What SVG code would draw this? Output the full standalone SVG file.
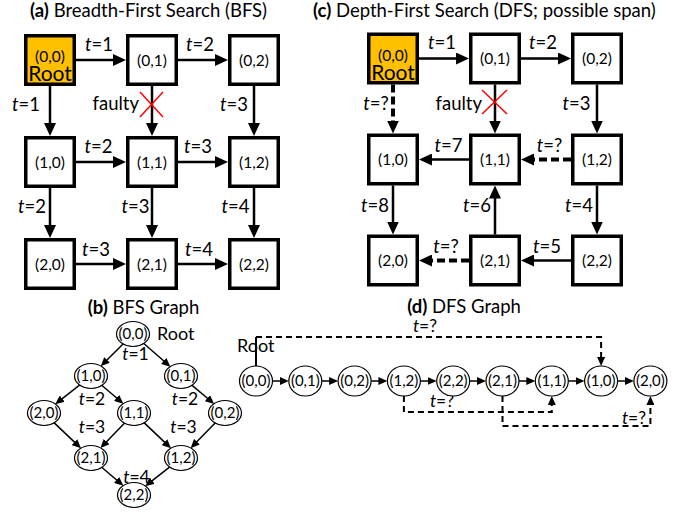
<svg xmlns="http://www.w3.org/2000/svg" width="683" height="514" viewBox="0 0 683 514">
<style>
text{font-family:Lato,"Liberation Sans",sans-serif;fill:#000}
.ttl{font-size:18.5px}
.b{font-weight:bold}
.lb{font-size:18.5px;text-anchor:middle}
.lbs{font-size:17.5px;text-anchor:middle}
.nd{font-size:15.5px;text-anchor:middle}
.gn{font-size:15px;text-anchor:middle}
.rt{font-size:21px;text-anchor:middle}
.it{font-style:italic}
.box{fill:#fff;stroke:#000;stroke-width:3.5}
.root{fill:#FFC000}
.ar{stroke:#000;stroke-width:2.5;fill:none;marker-end:url(#ah)}
.da{stroke:#000;stroke-width:4;fill:none;stroke-dasharray:8,4;marker-end:url(#ah)}
.el{fill:#fff;stroke:#000;stroke-width:1.2}
.sa{stroke:#000;stroke-width:1.5;fill:none;marker-end:url(#as)}
.sd{stroke:#000;stroke-width:2;fill:none;stroke-dasharray:6,4;marker-end:url(#as)}
.x{stroke:#FF0000;stroke-width:1.5}
</style>
<defs>
<marker id="ah" markerUnits="userSpaceOnUse" markerWidth="14" markerHeight="12" refX="5" refY="6" orient="auto"><path d="M0,0 L13,6 L0,12 z" fill="#000"/></marker>
<marker id="as" markerUnits="userSpaceOnUse" markerWidth="10" markerHeight="8" refX="4" refY="4" orient="auto"><path d="M0,0 L9,4 L0,8 z" fill="#000"/></marker>
</defs>

<!-- Titles -->
<text class="ttl" x="30" y="17"><tspan class="b">(a)</tspan> Breadth-First Search (BFS)</text>
<text class="ttl" x="313" y="17"><tspan class="b">(c)</tspan> Depth-First Search (DFS; possible span)</text>
<text class="ttl" x="143.5" y="314" text-anchor="middle"><tspan class="b">(b)</tspan> BFS Graph</text>
<text class="ttl" x="464" y="313" text-anchor="middle"><tspan class="b">(d)</tspan> DFS Graph</text>

<!-- (a) connectors -->
<g id="a-connectors">
<line class="ar" x1="76" y1="60" x2="118" y2="60"/>
<line class="ar" x1="178" y1="60" x2="220" y2="60"/>
<line class="ar" x1="76" y1="162" x2="118" y2="162"/>
<line class="ar" x1="178" y1="162" x2="220" y2="162"/>
<line class="ar" x1="76" y1="264" x2="118" y2="264"/>
<line class="ar" x1="178" y1="264" x2="220" y2="264"/>
<line class="ar" x1="50" y1="86" x2="50" y2="128"/>
<line class="ar" x1="152" y1="86" x2="152" y2="128"/>
<line class="ar" x1="254" y1="86" x2="254" y2="128"/>
<line class="ar" x1="50" y1="188" x2="50" y2="230"/>
<line class="ar" x1="152" y1="188" x2="152" y2="230"/>
<line class="ar" x1="254" y1="188" x2="254" y2="230"/>
<line class="x" x1="140" y1="92" x2="163" y2="117"/>
<line class="x" x1="163" y1="92" x2="140" y2="117"/>
<text class="lb" x="99" y="51"><tspan class="it">t</tspan>=1</text>
<text class="lb" x="200" y="51"><tspan class="it">t</tspan>=2</text>
<text class="lb" x="98.5" y="153"><tspan class="it">t</tspan>=2</text>
<text class="lb" x="198" y="153"><tspan class="it">t</tspan>=3</text>
<text class="lb" x="96" y="256"><tspan class="it">t</tspan>=3</text>
<text class="lb" x="199" y="256"><tspan class="it">t</tspan>=4</text>
<text class="lb" x="26" y="111"><tspan class="it">t</tspan>=1</text>
<text class="lb" x="234" y="111"><tspan class="it">t</tspan>=3</text>
<text class="lb" x="32" y="213"><tspan class="it">t</tspan>=2</text>
<text class="lb" x="135.5" y="213"><tspan class="it">t</tspan>=3</text>
<text class="lb" x="235.5" y="213"><tspan class="it">t</tspan>=4</text>
<text class="lb" x="139" y="110" style="text-anchor:end">faulty</text>
</g>

<!-- (a) nodes -->
<g id="a-00"><rect class="box root" x="25.75" y="35.75" width="48.5" height="48.5"/><text class="nd" x="50" y="62">(0,0)</text><text class="rt" x="50" y="81">Root</text></g>
<g id="a-01"><rect class="box" x="127.75" y="35.75" width="48.5" height="48.5"/><text class="nd" x="152" y="65.5">(0,1)</text></g>
<g id="a-02"><rect class="box" x="229.75" y="35.75" width="48.5" height="48.5"/><text class="nd" x="254" y="65.5">(0,2)</text></g>
<g id="a-10"><rect class="box" x="25.75" y="137.75" width="48.5" height="48.5"/><text class="nd" x="50" y="167.5">(1,0)</text></g>
<g id="a-11"><rect class="box" x="127.75" y="137.75" width="48.5" height="48.5"/><text class="nd" x="152" y="167.5">(1,1)</text></g>
<g id="a-12"><rect class="box" x="229.75" y="137.75" width="48.5" height="48.5"/><text class="nd" x="254" y="167.5">(1,2)</text></g>
<g id="a-20"><rect class="box" x="25.75" y="239.75" width="48.5" height="48.5"/><text class="nd" x="50" y="269.5">(2,0)</text></g>
<g id="a-21"><rect class="box" x="127.75" y="239.75" width="48.5" height="48.5"/><text class="nd" x="152" y="269.5">(2,1)</text></g>
<g id="a-22"><rect class="box" x="229.75" y="239.75" width="48.5" height="48.5"/><text class="nd" x="254" y="269.5">(2,2)</text></g>

<!-- (c) connectors -->
<g id="c-connectors">
<line class="ar" x1="419" y1="58.5" x2="461" y2="58.5"/>
<line class="ar" x1="521" y1="58.5" x2="563" y2="58.5"/>
<line class="da" x1="393" y1="84.5" x2="393" y2="125.5"/>
<line class="ar" x1="495" y1="84.5" x2="495" y2="125.5"/>
<line class="ar" x1="597" y1="84.5" x2="597" y2="125.5"/>
<line class="ar" x1="469" y1="159.5" x2="427" y2="159.5"/>
<line class="da" x1="571" y1="159.5" x2="529" y2="159.5"/>
<line class="ar" x1="393" y1="185.5" x2="393" y2="226.5"/>
<line class="ar" x1="495" y1="234.5" x2="495" y2="193.5"/>
<line class="ar" x1="597" y1="185.5" x2="597" y2="226.5"/>
<line class="ar" x1="571" y1="260.5" x2="529" y2="260.5"/>
<line class="da" x1="469" y1="260.5" x2="427" y2="260.5"/>
<line class="x" x1="482" y1="90" x2="507" y2="114"/>
<line class="x" x1="507" y1="90" x2="482" y2="114"/>
<text class="lb" x="442" y="49"><tspan class="it">t</tspan>=1</text>
<text class="lb" x="543" y="49"><tspan class="it">t</tspan>=2</text>
<text class="lb" x="376" y="110"><tspan class="it">t</tspan>=?</text>
<text class="lb" x="576.5" y="110"><tspan class="it">t</tspan>=3</text>
<text class="lb" x="482" y="110" style="text-anchor:end">faulty</text>
<text class="lb" x="448.5" y="152"><tspan class="it">t</tspan>=7</text>
<text class="lb" x="549.5" y="152"><tspan class="it">t</tspan>=?</text>
<text class="lb" x="375" y="212"><tspan class="it">t</tspan>=8</text>
<text class="lb" x="477" y="212"><tspan class="it">t</tspan>=6</text>
<text class="lb" x="579" y="212"><tspan class="it">t</tspan>=4</text>
<text class="lb" x="446" y="253"><tspan class="it">t</tspan>=?</text>
<text class="lb" x="547" y="253"><tspan class="it">t</tspan>=5</text>
</g>

<!-- (c) nodes -->
<g id="c-00"><rect class="box root" x="368.75" y="34.25" width="48.5" height="48.5"/><text class="nd" x="393" y="60.5">(0,0)</text><text class="rt" x="393" y="79.5">Root</text></g>
<g id="c-01"><rect class="box" x="470.75" y="34.25" width="48.5" height="48.5"/><text class="nd" x="495" y="64">(0,1)</text></g>
<g id="c-02"><rect class="box" x="572.75" y="34.25" width="48.5" height="48.5"/><text class="nd" x="597" y="64">(0,2)</text></g>
<g id="c-10"><rect class="box" x="368.75" y="135.25" width="48.5" height="48.5"/><text class="nd" x="393" y="165">(1,0)</text></g>
<g id="c-11"><rect class="box" x="470.75" y="135.25" width="48.5" height="48.5"/><text class="nd" x="495" y="165">(1,1)</text></g>
<g id="c-12"><rect class="box" x="572.75" y="135.25" width="48.5" height="48.5"/><text class="nd" x="597" y="165">(1,2)</text></g>
<g id="c-20"><rect class="box" x="368.75" y="236.25" width="48.5" height="48.5"/><text class="nd" x="393" y="266">(2,0)</text></g>
<g id="c-21"><rect class="box" x="470.75" y="236.25" width="48.5" height="48.5"/><text class="nd" x="495" y="266">(2,1)</text></g>
<g id="c-22"><rect class="box" x="572.75" y="236.25" width="48.5" height="48.5"/><text class="nd" x="597" y="266">(2,2)</text></g>

<!-- (b) connectors -->
<g id="b-connectors">
<line class="sa" x1="123.3" y1="343.7" x2="104.2" y2="362.8"/>
<line class="sa" x1="143.5" y1="343.2" x2="166.7" y2="363.5"/>
<line class="sa" x1="79.8" y1="384.8" x2="59.1" y2="401.1"/>
<line class="sa" x1="101.7" y1="385.2" x2="119.6" y2="400.5"/>
<line class="sa" x1="191.8" y1="385.1" x2="210.4" y2="400.7"/>
<line class="sa" x1="54" y1="422.6" x2="77.4" y2="444.9"/>
<line class="sa" x1="124.6" y1="422.9" x2="103.9" y2="444.5"/>
<line class="sa" x1="144" y1="422.6" x2="167.4" y2="444.9"/>
<line class="sa" x1="215.4" y1="422.8" x2="194.1" y2="444.6"/>
<line class="sa" x1="101.7" y1="467.2" x2="119.6" y2="482.5"/>
<line class="sa" x1="169.8" y1="466.8" x2="149.1" y2="483.1"/>
<text class="lbs" x="135.5" y="360"><tspan class="it">t</tspan>=1</text>
<text class="lbs" x="92" y="405"><tspan class="it">t</tspan>=2</text>
<text class="lbs" x="185" y="405"><tspan class="it">t</tspan>=2</text>
<text class="lbs" x="92" y="433"><tspan class="it">t</tspan>=3</text>
<text class="lbs" x="183.5" y="433"><tspan class="it">t</tspan>=3</text>
<text class="lbs" x="136.5" y="483"><tspan class="it">t</tspan>=4</text>
</g>

<!-- (b) nodes -->
<g id="b-00"><ellipse class="el" cx="133" cy="334" rx="16.5" ry="12.5"/><text class="gn" x="133" y="339">(0,0)</text><text x="157" y="340" font-size="18">Root</text></g>
<g id="b-10"><ellipse class="el" cx="91" cy="376" rx="16.5" ry="12.5"/><text class="gn" x="91" y="381">(1,0)</text></g>
<g id="b-01"><ellipse class="el" cx="181" cy="376" rx="16.5" ry="12.5"/><text class="gn" x="181" y="381">(0,1)</text></g>
<g id="b-20"><ellipse class="el" cx="44" cy="413" rx="16.5" ry="12.5"/><text class="gn" x="44" y="418">(2,0)</text></g>
<g id="b-11"><ellipse class="el" cx="134" cy="413" rx="16.5" ry="12.5"/><text class="gn" x="134" y="418">(1,1)</text></g>
<g id="b-02"><ellipse class="el" cx="225" cy="413" rx="16.5" ry="12.5"/><text class="gn" x="225" y="418">(0,2)</text></g>
<g id="b-21"><ellipse class="el" cx="91" cy="458" rx="16.5" ry="12.5"/><text class="gn" x="91" y="463">(2,1)</text></g>
<g id="b-12"><ellipse class="el" cx="181" cy="458" rx="16.5" ry="12.5"/><text class="gn" x="181" y="463">(1,2)</text></g>
<g id="b-22"><ellipse class="el" cx="134" cy="495" rx="16.5" ry="12.5"/><text class="gn" x="134" y="500">(2,2)</text></g>

<!-- (d) connectors -->
<g id="d-connectors">
<line class="sa" x1="272.5" y1="381" x2="283.8" y2="381"/>
<line class="sa" x1="321.8" y1="381" x2="333.1" y2="381"/>
<line class="sa" x1="371.1" y1="381" x2="382.4" y2="381"/>
<line class="sa" x1="420.4" y1="381" x2="431.7" y2="381"/>
<line class="sa" x1="469.7" y1="381" x2="481" y2="381"/>
<line class="sa" x1="519" y1="381" x2="530.3" y2="381"/>
<line class="sa" x1="568.3" y1="381" x2="579.6" y2="381"/>
<line class="sa" x1="617.6" y1="381" x2="628.9" y2="381"/>
<line x1="256" y1="366" x2="256" y2="337" stroke="#000" stroke-width="2"/>
<path class="sd" d="M256,337 H601.1 V361"/>
<path class="sd" d="M403.9,396 V412 H551.8 V401"/>
<path class="sd" d="M502.5,396 V426 H650.4 V401"/>
<text class="lbs" x="425" y="332"><tspan class="it">t</tspan>=?</text>
<text class="lbs" x="442" y="407"><tspan class="it">t</tspan>=?</text>
<text class="lbs" x="634" y="424"><tspan class="it">t</tspan>=?</text>
</g>

<!-- (d) nodes -->
<text x="237" y="352" font-size="18">Root</text>
<g id="d-00"><ellipse class="el" cx="256" cy="381" rx="16.5" ry="15"/><text class="gn" x="256" y="386">(0,0)</text></g>
<g id="d-01"><ellipse class="el" cx="305.3" cy="381" rx="16.5" ry="15"/><text class="gn" x="305.3" y="386">(0,1)</text></g>
<g id="d-02"><ellipse class="el" cx="354.6" cy="381" rx="16.5" ry="15"/><text class="gn" x="354.6" y="386">(0,2)</text></g>
<g id="d-12"><ellipse class="el" cx="403.9" cy="381" rx="16.5" ry="15"/><text class="gn" x="403.9" y="386">(1,2)</text></g>
<g id="d-22"><ellipse class="el" cx="453.2" cy="381" rx="16.5" ry="15"/><text class="gn" x="453.2" y="386">(2,2)</text></g>
<g id="d-21"><ellipse class="el" cx="502.5" cy="381" rx="16.5" ry="15"/><text class="gn" x="502.5" y="386">(2,1)</text></g>
<g id="d-11"><ellipse class="el" cx="551.8" cy="381" rx="16.5" ry="15"/><text class="gn" x="551.8" y="386">(1,1)</text></g>
<g id="d-10"><ellipse class="el" cx="601.1" cy="381" rx="16.5" ry="15"/><text class="gn" x="601.1" y="386">(1,0)</text></g>
<g id="d-20"><ellipse class="el" cx="650.4" cy="381" rx="16.5" ry="15"/><text class="gn" x="650.4" y="386">(2,0)</text></g>
</svg>
